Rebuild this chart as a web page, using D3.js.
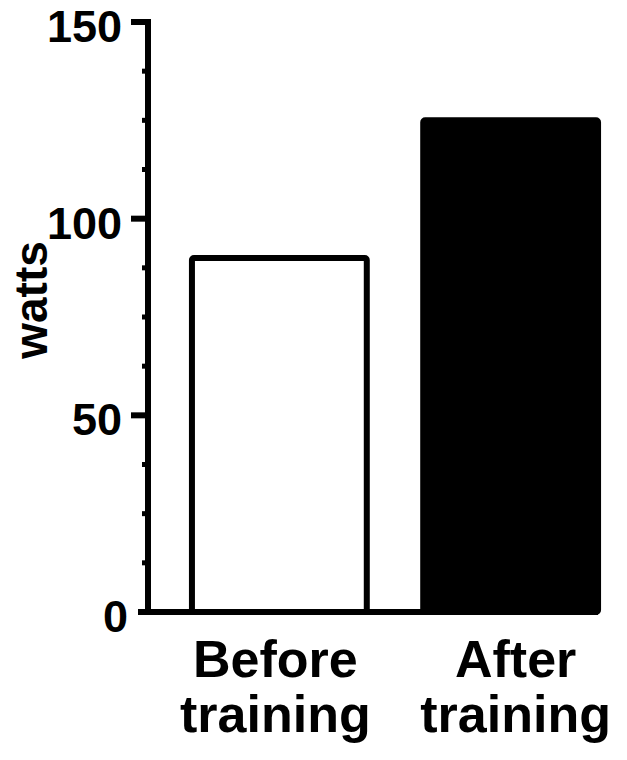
<!DOCTYPE html>
<html>
<meta charset="utf-8">
<head>
	<title>watts</title>
	<script type="text/javascript" src="https://cdn.jsdelivr.net/npm/d3@7"></script>
	<style>
		body { margin: 0; background: #fff; }
		text { font-family: "Liberation Sans", Arial, sans-serif; font-weight: bold; fill: #000; }
	</style>
</head>
<body>
	<div class="chart-container"></div>
</body>
</html>

<script type="text/javascript">
// data
var categories = [["Before", "training"], ["After", "training"]];
var values = [90, 125];
var fills = ["#fff", "#000"];
var majorTicks = [0, 50, 100, 150];
var minorTicks = [12.5, 25, 37.5, 62.5, 75, 87.5, 112.5, 125, 137.5];

var width = 627, height = 760;

var svg = d3.select(".chart-container").append("svg")
	.attr("width", width)
	.attr("height", height);

var y = d3.scaleLinear().domain([0, 150]).range([612, 22]);
var x = d3.scaleBand()
	.domain(d3.range(values.length))
	.range([148, 642])
	.paddingInner(0.244)
	.paddingOuter(0.19);

// bars
svg.selectAll("rect.bar")
	.data(values)
	.enter().append("rect")
	.attr("class", "bar")
	.attr("x", function(d, i) { return x(i); })
	.attr("y", function(d) { return y(d); })
	.attr("width", x.bandwidth())
	.attr("height", function(d) { return y(0) - y(d); })
	.attr("rx", 2)
	.style("fill", function(d, i) { return fills[i]; })
	.style("stroke", "#000")
	.style("stroke-width", 6);

// x axis baseline
svg.append("line")
	.attr("x1", 138).attr("x2", x(1) + x.bandwidth())
	.attr("y1", y(0)).attr("y2", y(0))
	.style("stroke", "#000").style("stroke-width", 6);

// y axis
svg.append("line")
	.attr("x1", 148).attr("x2", 148)
	.attr("y1", y(150) - 3).attr("y2", y(0) + 3)
	.style("stroke", "#000").style("stroke-width", 6);

svg.selectAll("line.major")
	.data(majorTicks.filter(function(d) { return d > 0; }))
	.enter().append("line")
	.attr("class", "major")
	.attr("x1", 131).attr("x2", 148)
	.attr("y1", function(d) { return y(d); })
	.attr("y2", function(d) { return y(d); })
	.style("stroke", "#000").style("stroke-width", 6);

svg.selectAll("line.minor")
	.data(minorTicks)
	.enter().append("line")
	.attr("class", "minor")
	.attr("x1", 142).attr("x2", 148)
	.attr("y1", function(d) { return y(d); })
	.attr("y2", function(d) { return y(d); })
	.style("stroke", "#000").style("stroke-width", 5);

svg.selectAll("text.tick")
	.data(majorTicks)
	.enter().append("text")
	.attr("class", "tick")
	.attr("x", function(d) { return d === 0 ? 128 : 122; })
	.attr("y", function(d) { return y(d) + 20; })
	.attr("text-anchor", "end")
	.style("font-size", "45px")
	.text(function(d) { return d; });

// category labels (reference sits them a little apart from the bar centres)
var labels = svg.selectAll("text.cat")
	.data(categories)
	.enter().append("text")
	.attr("class", "cat")
	.attr("text-anchor", "middle")
	.style("font-size", "52px");

labels.selectAll("tspan")
	.data(function(d, i) { return d.map(function(s) { return { s: s, i: i }; }); })
	.enter().append("tspan")
	.attr("x", function(d) { return x(d.i) + x.bandwidth() / 2 + (d.i === 0 ? -4 : 5); })
	.attr("y", function(d, j) { return 677 + j * 55; })
	.text(function(d) { return d.s; });

// y axis title
svg.append("text")
	.attr("transform", "translate(47,300) rotate(-90)")
	.attr("text-anchor", "middle")
	.style("font-size", "46px")
	.text("watts");
</script>
